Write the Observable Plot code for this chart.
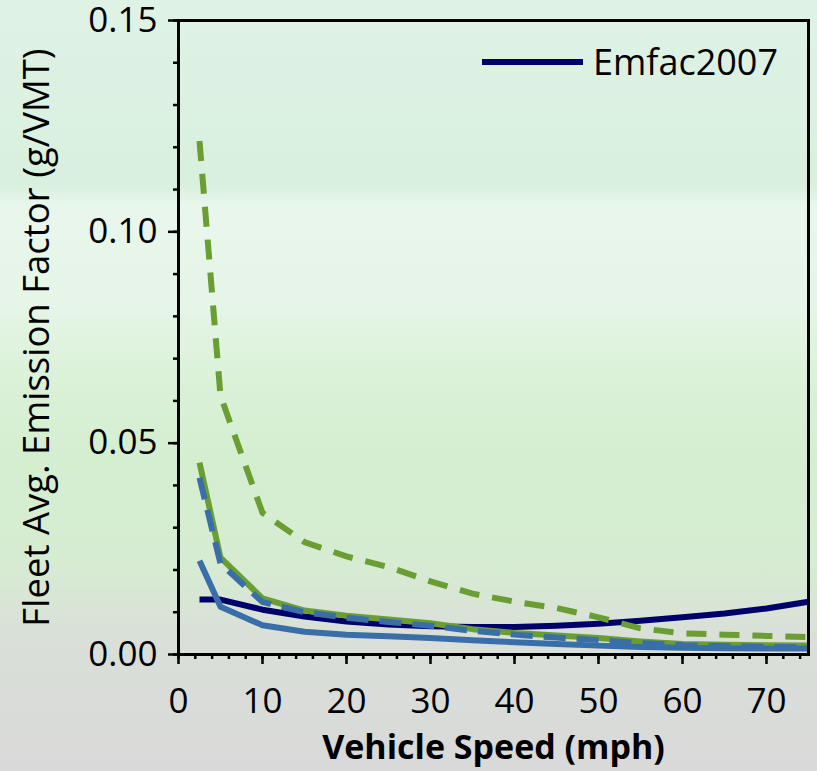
<!DOCTYPE html>
<html>
<head>
<meta charset="utf-8">
<script src="https://cdn.jsdelivr.net/npm/d3@7"></script>
<script src="https://cdn.jsdelivr.net/npm/@observablehq/plot@0.6"></script>
<style>
  html, body { margin: 0; padding: 0; }
  #wrap {
    position: relative; width: 817px; height: 771px; overflow: hidden;
    font-family: "Open Sans", sans-serif;
    background:
      linear-gradient(180deg,
        #dff2e6 0px, #d9f0de 185px, #e9f6ec 205px, #e6f5e8 300px,
        #dbf1d8 380px, #d4eed0 460px, #d6ecd2 560px, #dadfd8 640px,
        #d9dcd8 700px, #d9d9d9 771px);
  }
  #legend {
    position: absolute; left: 482px; top: 37px; display: flex; align-items: center;
    font-size: 36px; color: #000;
  }
  #legend .sw { width: 101px; height: 6px; background: #00006b; margin-right: 10px; }
</style>
</head>
<body>
<div id="wrap"><div id="legend"><span class="sw"></span><span>Emfac2007</span></div></div>
<script>
const speeds = [2.5, 5, 10, 15, 20, 25, 30, 35, 40, 45, 50, 55, 60, 65, 70, 75];
const emfac2007   = [0.0130, 0.0130, 0.0106, 0.0090, 0.0078, 0.0071, 0.0067, 0.0065, 0.0065, 0.0068, 0.0073, 0.0080, 0.0088, 0.0097, 0.0109, 0.0125];
const blueSolid   = [0.0222, 0.0113, 0.0069, 0.0054, 0.0047, 0.0043, 0.0039, 0.0034, 0.0029, 0.0025, 0.0021, 0.0018, 0.0016, 0.0015, 0.0014, 0.0014];
const blueDashed  = [0.0418, 0.0215, 0.0124, 0.0100, 0.0087, 0.0077, 0.0068, 0.0056, 0.0047, 0.0040, 0.0034, 0.0027, 0.0022, 0.0020, 0.0018, 0.0017];
const greenSolid  = [0.0454, 0.0229, 0.0133, 0.0104, 0.0092, 0.0083, 0.0074, 0.0060, 0.0051, 0.0045, 0.0039, 0.0031, 0.0025, 0.0023, 0.0022, 0.0021];
const greenDashed = [0.1215, 0.0612, 0.0335, 0.0266, 0.0232, 0.0207, 0.0173, 0.0144, 0.0125, 0.0110, 0.0088, 0.0062, 0.0050, 0.0047, 0.0044, 0.0041];

const xMajor = [0, 10, 20, 30, 40, 50, 60, 70];
const xMinor = d3.range(0, 75, 2);
const yMajor = [0, 0.05, 0.10, 0.15];
const yMinor = d3.range(0, 16).map(i => i / 100);

const xTitle = "Vehicle Speed (mph)";
const yTitle = "Fleet Avg. Emission Factor (g/VMT)";

const series = (vals) => speeds.map((s, i) => ({speed: s, value: vals[i]}));

const lineOpts = {x: "speed", y: "value", strokeWidth: 6, strokeLinejoin: "round", strokeLinecap: "butt"};

const chart = Plot.plot({
  width: 817,
  height: 771,
  marginLeft: 178,
  marginRight: 9,
  marginTop: 20,
  marginBottom: 117,
  style: {background: "transparent", fontFamily: "'Open Sans', sans-serif", color: "#000", overflow: "visible"},
  x: {domain: [0, 75], axis: null},
  y: {domain: [0, 0.15], axis: null},
  marks: [
    Plot.line(series(emfac2007), {...lineOpts, stroke: "#00006b"}),
    Plot.line(series(greenSolid), {...lineOpts, stroke: "#6a9e32"}),
    Plot.line(series(blueSolid), {...lineOpts, stroke: "#3a6ea8"}),
    Plot.line(series(greenDashed), {...lineOpts, stroke: "#6a9e32", strokeDasharray: "20,13"}),
    Plot.line(series(blueDashed), {...lineOpts, stroke: "#3a6ea8", strokeDasharray: "22,11"}),
    Plot.frame({stroke: "#000", strokeWidth: 3}),
    Plot.axisY(yMinor, {tickSize: 5, strokeWidth: 2.5, tickFormat: () => "", label: null}),
    Plot.axisY(yMajor, {tickSize: 10, tickPadding: 11, strokeWidth: 2.5, tickFormat: d3.format(".2f"), fontSize: 35, label: null}),
    Plot.axisX(xMinor, {tickSize: 5, strokeWidth: 2.5, tickFormat: () => "", label: null}),
    Plot.axisX(xMajor, {tickSize: 10, tickPadding: 24, strokeWidth: 2.5, fontSize: 35, label: null}),
    Plot.text([yTitle], {frameAnchor: "left", textAnchor: "middle", rotate: -90, dx: -141, fontSize: 36.5, fill: "#000"}),
    Plot.text([xTitle], {frameAnchor: "bottom", textAnchor: "middle", dy: 104, fontSize: 34, fontWeight: "bold", fill: "#000"})
  ]
});
chart.style.position = "absolute";
chart.style.left = "0";
chart.style.top = "0";
const wrap = document.getElementById("wrap");
wrap.insertBefore(chart, wrap.firstChild);
</script>
</body>
</html>
